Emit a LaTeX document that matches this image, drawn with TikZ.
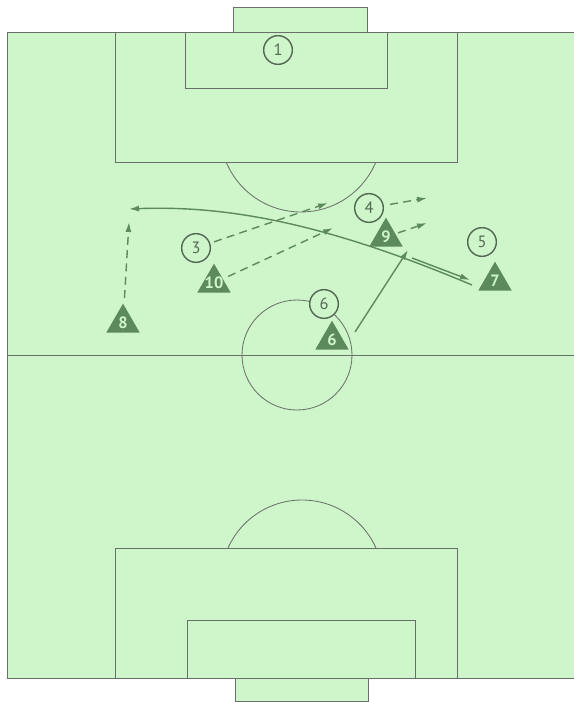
\documentclass[tikz,border=0pt]{standalone}
\usepackage{fontspec}
\setmainfont{PT Sans}
\usetikzlibrary{arrows.meta,shapes.geometric}
\definecolor{pitch}{RGB}{206,246,202}
\definecolor{chalk}{RGB}{105,112,105}
\definecolor{team}{RGB}{92,138,92}
\definecolor{ring}{RGB}{84,104,84}

\begin{document}
\begin{tikzpicture}[x=0.3mm,y=-0.3mm,
  line/.style={chalk,line width=0.7pt},
  opp/.style={circle,draw=ring,fill=pitch,line width=1.2pt,minimum size=8.6mm,inner sep=0pt,
    text=ring,font=\fontsize{14}{14}\selectfont},
  own/.style={regular polygon,regular polygon sides=3,fill=team,minimum size=11.6mm,inner sep=0pt,
    label={[text=pitch,font=\bfseries\fontsize{14}{14}\selectfont]center:#1}},
  pass/.style={team,line width=1.2pt,-{Latex[length=3mm,width=1.8mm]}},
  run/.style={pass,dash pattern=on 2.4mm off 1.6mm}]
  \fill[white] (0,0) rectangle (574,702);
  \clip (0,0) rectangle (574,702);
  % pitch
  \filldraw[line,fill=pitch] (7,32) rectangle (590,678);
  \filldraw[line,fill=pitch] (233,7) rectangle (367,32);
  \filldraw[line,fill=pitch] (235,678) rectangle (368,701);
  \draw[line] (115,32) rectangle (457,162);
  \draw[line] (185,32) rectangle (387,88);
  \draw[line] (115,548) rectangle (457,678);
  \draw[line] (187,620) rectangle (415,678);
  \draw[line] (7,355) -- (590,355);
  \draw[line] (297,355) circle (55);
  \begin{scope}
    \clip (0,162) rectangle (574,260);
    \draw[line] (301,131) circle (81);
  \end{scope}
  \begin{scope}
    \clip (0,440) rectangle (574,548);
    \draw[line] (302,581) circle (81);
  \end{scope}
  % players
  \node[opp] (o1) at (278,50) {1};
  \node[opp] (o3) at (196,248) {3};
  \node[opp] (o4) at (369,208) {4};
  \node[opp] (o5) at (482,242) {5};
  \node[opp] (o6) at (324,304) {6};
  \node[own=10] (p10) at (214,283) {};
  \node[own=8] (p8) at (123,323) {};
  \node[own=9] (p9) at (386,237) {};
  \node[own=7] (p7) at (495,281) {};
  \node[own=6] (p6) at (332,340) {};
  % free ends
  \coordinate (e8) at (129,222);
  \coordinate (e3) at (328,203);
  \coordinate (e10) at (333,228);
  \coordinate (e4) at (427,198);
  \coordinate (e9) at (427,223);
  \coordinate (e6) at (408,250);
  \coordinate (e7) at (129,209);
  \coordinate (s7) at (412,258);
  % runs and passes
  \draw[run,shorten <=2.1mm] (p8) -- (e8);
  \draw[run,shorten <=1.2mm] (o3) -- (e3);
  \draw[run,shorten <=1.7mm] (p10) -- (e10);
  \draw[run,shorten <=1.9mm] (o4) -- (e4);
  \draw[run,shorten <=0.8mm] (p9) -- (e9);
  \draw[pass] ([shift={(23,-8)}]p6.center) -- (e6);
  \draw[pass] ([shift={(-23,4)}]p7.center) .. controls (330,225) and (230,205) .. (e7);
  \draw[pass] (s7) -- ([shift={(-25,-1)}]p7.center);
\end{tikzpicture}
\end{document}
